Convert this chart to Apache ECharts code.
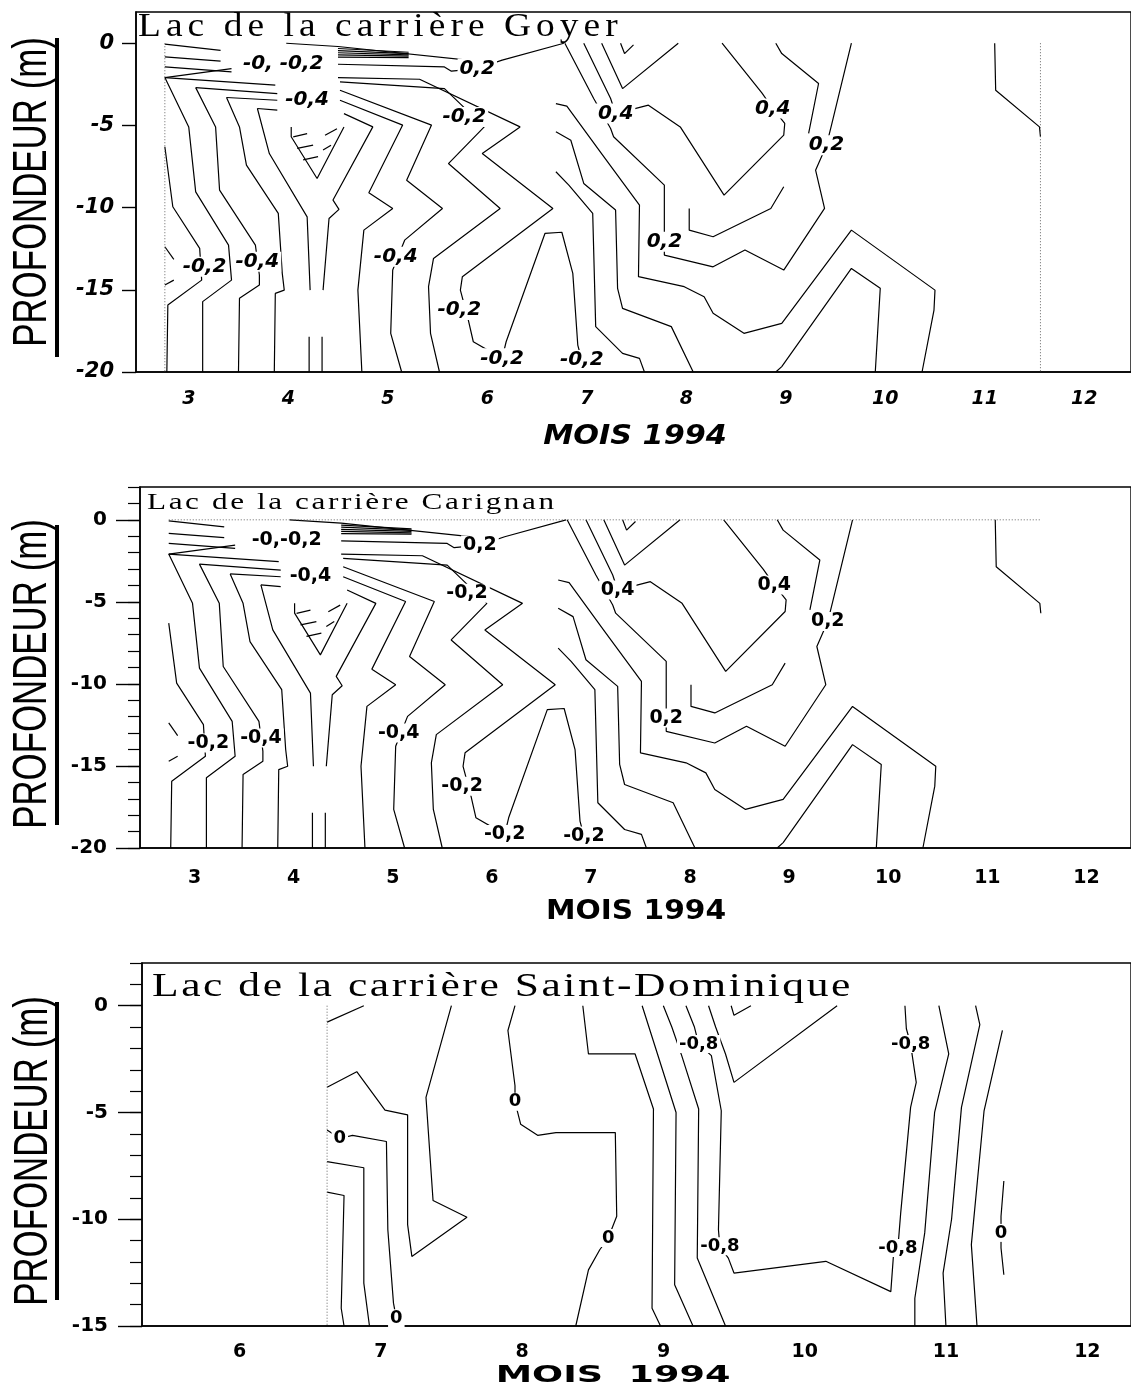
<!DOCTYPE html>
<html><head><meta charset="utf-8">
<script src="https://cdn.jsdelivr.net/npm/echarts@6.0.0/dist/echarts.min.js"></script>
<style>html,body{margin:0;padding:0;background:#fff;overflow:hidden}#c{width:1131px;height:1400px}</style>
</head><body><div id="c"></div>
<script>
// ---------- data ----------
const monthsAB = ['3','4','5','6','7','8','9','10','11','12'];
const monthsC = ['6','7','8','9','10','11','12'];
const depthTicksAB = [-20,-15,-10,-5,0];
const depthTicksC = [-15,-10,-5,0];

// contour polylines [month, depth] - Lac de la carrière Goyer
const goyerLines = [
  [[3.29,-0.06],[3.85,-0.43]],
  [[3.29,-0.83],[3.85,-1.09]],
  [[3.29,-1.44],[3.96,-1.74]],
  [[3.29,-2.09],[3.96,-1.54]],
  [[4.51,0],[5.03,-0.2],[6.5,-1.13]],
  [[5.03,-0.32],[5.74,-0.55]],
  [[5.03,-0.45],[5.74,-0.63]],
  [[5.03,-0.58],[5.74,-0.71]],
  [[5.03,-0.71],[5.74,-0.79]],
  [[5.03,-0.84],[5.74,-0.87]],
  [[5.03,-1.28],[6.10,-1.44],[6.17,-1.70],[6.43,-1.54],[6.68,-1.03],[7.30,0]],
  [[3.29,-2.09],[4.40,-2.55]],
  [[3.60,-2.70],[4.42,-3.06]],
  [[3.91,-3.30],[4.42,-3.47]],
  [[4.22,-3.97],[4.42,-4.07]],
  [[3.29,-6.30],[3.37,-9.95],[3.64,-12.48],[3.66,-14.41],[3.32,-15.93],[3.31,-20]],
  [[3.29,-12.38],[3.38,-13.15]],
  [[3.38,-14.41],[3.29,-14.71]],
  [[3.29,-2.09],[3.53,-5.09],[3.60,-9.04],[3.93,-12.28],[3.96,-14.41],[3.67,-15.72],[3.67,-20]],
  [[3.60,-2.70],[3.80,-5.09],[3.84,-8.94],[4.20,-12.28],[4.24,-14.10],[4.24,-14.71],[4.04,-15.52],[4.03,-20]],
  [[3.91,-3.30],[4.04,-5.09],[4.11,-7.42],[4.43,-10.35],[4.47,-14.0],[4.49,-15.02],[4.40,-15.22],[4.39,-20]],
  [[4.22,-3.97],[4.34,-6.71],[4.72,-10.56],[4.75,-15.02]],
  [[4.74,-17.85],[4.74,-20]],
  [[5.09,-4.28],[5.38,-5.09],[4.98,-9.54],[5.04,-10.11],[4.94,-10.66],[4.88,-15.02]],
  [[4.87,-17.85],[4.87,-20]],
  [[4.56,-5.09],[4.56,-5.69],[4.82,-8.23],[5.09,-5.09]],
  [[4.58,-5.7],[4.72,-5.5]],
  [[4.62,-6.4],[4.78,-6.2]],
  [[4.68,-7.1],[4.83,-6.9]],
  [[4.90,-5.6],[5.02,-5.2]],
  [[4.88,-6.5],[4.96,-6.2]],
  [[5.05,-3.47],[5.68,-4.98],[5.34,-9.10],[5.58,-10.05],[5.29,-11.37],[5.23,-15.02],[5.27,-20]],
  [[5.05,-2.86],[5.97,-4.98],[5.72,-8.33],[6.08,-10.05],[5.70,-11.98],[5.58,-13.80],[5.56,-17.65],[5.67,-20]],
  [[5.05,-2.35],[6.10,-2.76],[6.50,-5.09],[6.14,-7.32],[6.66,-10.05],[5.99,-13.09],[5.94,-14.81],[5.96,-17.65],[6.05,-20]],
  [[5.03,-2.09],[5.85,-2.19],[6.86,-5.09],[6.48,-6.71],[7.19,-10.05],[6.28,-14.20],[6.26,-15.02],[6.34,-16.84],[6.39,-18.16],[6.68,-19.17]],
  [[6.68,-19.17],[6.72,-18.16],[7.11,-11.57],[7.28,-11.5],[7.39,-14.0],[7.44,-18.36],[7.48,-19.27]],
  [[7.50,0],[7.77,-3.36],[7.82,-4.28],[8.15,-3.77],[8.47,-5.09],[8.91,-9.24],[9.51,-5.59],[9.52,-4.88],[9.40,-3.97],[9.29,-3.02],[8.89,0]],
  [[7.31,0],[7.60,-3.36],[7.77,-5.19],[7.80,-5.69],[8.31,-8.63],[8.31,-11.17],[8.31,-12.89],[8.80,-13.60],[9.12,-12.58],[9.51,-13.80],[9.92,-10.05],[9.83,-7.72],[9.94,-6.2],[9.99,-4.98],[10.19,0]],
  [[7.68,0],[7.89,-2.76],[8.45,0]],
  [[7.87,0],[7.91,-0.63],[8.0,-0.1]],
  [[9.43,0],[9.49,-0.63],[9.86,-2.45],[9.76,-5.49]],
  [[7.22,-5.39],[7.37,-5.90],[7.50,-8.53],[7.82,-10.15],[7.84,-14.91],[7.89,-16.13],[8.38,-17.24],[8.60,-20]],
  [[7.22,-7.82],[7.35,-8.63],[7.59,-10.35],[7.62,-17.24],[7.89,-18.87],[8.06,-19.17],[8.11,-20]],
  [[7.22,-3.67],[7.33,-3.83],[7.69,-6.81],[8.06,-9.85],[8.05,-14.20],[8.51,-14.81],[8.71,-15.42],[8.80,-16.43],[9.11,-17.65],[9.49,-17.04],[10.19,-11.37],[11.03,-15.02],[11.02,-16.23],[10.90,-20]],
  [[8.56,-10.05],[8.56,-11.37],[8.80,-11.77],[9.38,-10.05],[9.51,-8.73]],
  [[9.43,-20],[9.49,-19.67],[10.19,-13.70],[10.48,-14.91],[10.43,-20]],
  [[11.63,0],[11.64,-2.86],[12.08,-5.09],[12.09,-5.69]]
];
const goyerDotted = [
  [[3.29,0],[3.29,-20]],
  [[12.09,0],[12.09,-20]]
];
const goyerLabels = [
  [4.48,-1.24,'-0, -0,2'],[6.43,-1.54,'0,2'],[4.72,-3.42,'-0,4'],[6.30,-4.48,'-0,2'],
  [7.82,-4.28,'0,4'],[9.40,-3.97,'0,4'],[9.94,-6.20,'0,2'],[8.31,-12.08,'0,2'],
  [3.69,-13.60,'-0,2'],[4.22,-13.29,'-0,4'],[5.61,-12.99,'-0,4'],[6.25,-16.23,'-0,2'],
  [6.68,-19.17,'-0,2'],[7.48,-19.27,'-0,2']
];

// Lac de la carrière Carignan (same field as drawn in the source figure)
const carignanLines = goyerLines;
const carignanDotted = [
  [[3.29,0],[12.09,0]]
];
const carignanLabels = [
  [4.48,-1.24,'-0,-0,2'],[6.43,-1.54,'0,2'],[4.72,-3.42,'-0,4'],[6.30,-4.48,'-0,2'],
  [7.82,-4.28,'0,4'],[9.40,-3.97,'0,4'],[9.94,-6.20,'0,2'],[8.31,-12.08,'0,2'],
  [3.69,-13.60,'-0,2'],[4.22,-13.29,'-0,4'],[5.61,-12.99,'-0,4'],[6.25,-16.23,'-0,2'],
  [6.68,-19.17,'-0,2'],[7.48,-19.27,'-0,2']
];

// Lac de la carrière Saint-Dominique
const dominiqueLines = [
  [[7.31,-0.77],[7.57,0]],
  [[7.31,-3.82],[7.52,-3.09],[7.72,-4.89],[7.88,-5.11],[7.88,-10.25],[7.91,-11.74],[8.30,-9.91],[8.06,-9.12],[8.01,-4.29],[8.19,0]],
  [[7.31,-5.82],[7.40,-6.22],[7.49,-6.07],[7.73,-6.36],[7.74,-10.49],[7.78,-13.93],[7.80,-14.64]],
  [[7.31,-7.30],[7.57,-7.59],[7.57,-12.99],[7.61,-15]],
  [[7.31,-8.73],[7.43,-8.89],[7.41,-14.17],[7.43,-15]],
  [[8.64,0],[8.59,-1.16],[8.64,-3.75],[8.64,-4.50],[8.68,-5.55],[8.80,-6.07],[8.93,-5.94],[9.35,-5.94],[9.36,-9.86],[9.30,-10.88],[9.24,-11.43],[9.16,-12.37],[9.07,-15]],
  [[9.12,0],[9.16,-2.26],[9.49,-2.26],[9.62,-4.84],[9.61,-14.17],[9.67,-15]],
  [[9.54,0],[9.78,-5.0],[9.77,-13.07],[9.90,-15]],
  [[9.69,0],[9.75,-1.0],[9.82,-2.34],[9.94,-4.84],[9.93,-11.82],[10.13,-15]],
  [[9.85,0],[9.91,-1.0],[9.94,-1.79],[10.03,-2.34],[10.10,-4.92],[10.08,-10.49],[10.09,-11.27],[10.15,-11.82],[10.19,-12.52],[10.84,-11.97],[11.30,-13.39],[11.32,-11.58],[11.35,-11.35],[11.37,-9.70],[11.44,-4.76],[11.48,-3.59],[11.45,-2.26],[11.44,-1.79],[11.41,-1.08],[11.40,0]],
  [[10.01,0],[10.06,-1.0],[10.13,-2.26],[10.19,-3.59],[10.92,0]],
  [[10.17,0],[10.19,-0.45],[10.31,0]],
  [[11.64,0],[11.71,-2.26],[11.61,-5.0],[11.54,-10.64],[11.47,-13.70],[11.47,-15]],
  [[11.90,0],[11.93,-0.89],[11.80,-4.76],[11.73,-10.0],[11.67,-12.52],[11.69,-15]],
  [[12.09,-1.16],[11.96,-4.92],[11.87,-11.19],[11.91,-15]],
  [[12.10,-8.21],[12.08,-9.86],[12.08,-10.64],[12.08,-11.35],[12.10,-12.6]]
];
const dominiqueDotted = [
  [[7.31,0],[7.31,-15]]
];
const dominiqueLabels = [
  [7.40,-6.22,'0'],[8.64,-4.50,'0'],[7.80,-14.64,'0'],[9.30,-10.88,'0'],
  [9.94,-1.79,'-0,8'],[10.09,-11.27,'-0,8'],[11.44,-1.79,'-0,8'],[11.35,-11.35,'-0,8'],[12.08,-10.64,'0']
];

// ---------- build ----------
const SANS = '"DejaVu Sans", sans-serif';
const chart = echarts.init(document.getElementById('c'), null, {renderer:'canvas'});

function lines(list, xi, yi, dotted) {
  return list.map(pts => ({
    type:'line', xAxisIndex:xi, yAxisIndex:yi, data:pts, symbol:'none', silent:true,
    animation:false, z:2,
    lineStyle: dotted ? {color:'#666', width:1, type:[1,2]} : {color:'#000', width:1.2}
  }));
}
function labels(list, xi, yi, italic, size) {
  return {
    type:'scatter', xAxisIndex:xi, yAxisIndex:yi, symbol:'circle', symbolSize:1, silent:true, animation:false, z:5,
    itemStyle:{color:'#fff', opacity:1},
    data: list.map(l => ({value:[l[0], l[1]], name:l[2]})),
    label:{show:true, position:'inside', formatter:'{b}', color:'#000', opacity:1,
      textBorderWidth:0, textBorderColor:'transparent', textShadowBlur:0,
      fontFamily:SANS, fontWeight:'bold', fontStyle: italic ? 'italic' : 'normal', fontSize:size,
      backgroundColor:'#fff', padding:[0,2]}
  };
}
function catAxis(gi, data, italic, margin, padLeft, size) {
  return {gridIndex:gi, type:'category', data:data, boundaryGap:true, position:'bottom',
    axisLine:{onZero:false, lineStyle:{color:'#000', width:1.6}},
    axisTick:{length:11, lineStyle:{color:'#000', width:1.6}},
    axisLabel:{color:'#000', fontFamily:SANS, fontWeight:'bold', fontStyle: italic?'italic':'normal',
      fontSize:size, margin:margin, padding:[0,0,0,padLeft]},
    splitLine:{show:false}};
}
function valX(gi, min, max) {
  return {gridIndex:gi, type:'value', min:min, max:max, show:false, position:'bottom',
    axisLine:{onZero:false}, splitLine:{show:false}};
}
function mainY(gi, min, max, ticks, italic, tickLen, margin, size) {
  return {gridIndex:gi, type:'value', min:min, max:max, interval:5, position:'left',
    axisLine:{show:true, onZero:false, lineStyle:{color:'#000', width:1.6}},
    axisTick:{show:true, length:tickLen, customValues:ticks, lineStyle:{color:'#000', width:1.4}},
    axisLabel:{customValues:ticks, color:'#000', fontFamily:SANS, fontWeight:'bold',
      fontStyle: italic?'italic':'normal', fontSize:size, margin:margin,
      formatter: v => (v % 5 === 0 ? String(v) : '')},
    splitLine:{show:false}};
}
function minorY(gi, min, max) {
  return {gridIndex:gi, type:'value', min:min, max:max, interval:1, position:'left', offset:0,
    axisLine:{show:false}, axisTick:{show:true, length:12, lineStyle:{color:'#000', width:1.2}},
    axisLabel:{show:false}, splitLine:{show:false}};
}
function spaced(text) { return text.split('').map(ch => '{s|' + ch + '}').join(''); }
function titleText(x, y, text, size, pad, sx) {
  return {type:'text', x:x, y:y, scaleX:sx, silent:true, z:10,
    style:{text:spaced(text), font: size + 'px "Liberation Serif"', fill:'#000', align:'left', verticalAlign:'middle',
      rich:{s:{font: size + 'px "Liberation Serif"', fill:'#000', padding:[0,pad,0,0]}}}};
}
function yTitle(cx, cy, barY, barH) {
  return [
    {type:'text', x:cx, y:cy, rotation:Math.PI/2, scaleX:0.726, silent:true,
      style:{text:'PROFONDEUR (m)', font:'48px "Liberation Sans"', fill:'#000', align:'center', verticalAlign:'middle'}},
    {type:'rect', silent:true, shape:{x:55, y:barY, width:4, height:barH}, style:{fill:'#000'}}
  ];
}
function xTitle(cx, cy, text, font, sx) {
  return {type:'text', x:cx, y:cy, scaleX:sx, silent:true,
    style:{text:text, font:font, fill:'#000', align:'center', verticalAlign:'middle'}};
}

const option = {
  backgroundColor:'#fff',
  animation:false,
  grid:[
    {left:136, top:12, width:1004, height:360, show:true, borderColor:'#000', borderWidth:1.4, backgroundColor:'#fff'},
    {left:140, top:487, width:1000, height:361, show:true, borderColor:'#000', borderWidth:1.4, backgroundColor:'#fff'},
    {left:142, top:963, width:999, height:363, show:true, borderColor:'#000', borderWidth:1.4, backgroundColor:'#fff'}
  ],
  xAxis:[
    catAxis(0, monthsAB, true, 18, 6, 19), valX(0, 3, 13),
    catAxis(1, monthsAB, false, 21, 10, 19), valX(1, 3, 13),
    catAxis(2, monthsC, false, 17, 54, 19), valX(2, 6, 13)
  ],
  yAxis:[
    mainY(0, -20, 1.9, depthTicksAB, true, 14, 22, 21),
    mainY(1, -20, 2, depthTicksAB, false, 24, 33, 20),
    minorY(1, -20, 2),
    mainY(2, -15, 2, depthTicksC, false, 24, 34, 20),
    minorY(2, -15, 2)
  ],
  series:[].concat(
    lines(goyerLines, 1, 0, false), lines(goyerDotted, 1, 0, true), [labels(goyerLabels, 1, 0, true, 20)],
    lines(carignanLines, 3, 1, false), lines(carignanDotted, 3, 1, true), [labels(carignanLabels, 3, 1, false, 19)],
    lines(dominiqueLines, 5, 3, false), lines(dominiqueDotted, 5, 3, true), [labels(dominiqueLabels, 5, 3, false, 18)]
  ),
  graphic:[].concat(
    [titleText(138, 27, 'Lac de la carrière Goyer', 34, 4.6, 1.1)],
    [titleText(147, 503, 'Lac de la carrière Carignan', 24, 2.0, 1.3)],
    [titleText(152, 987, 'Lac de la carrière Saint-Dominique', 34, 2.0, 1.28)],
    yTitle(33, 192, 38, 319),
    yTitle(33, 674, 525, 300),
    yTitle(34, 1151, 1002, 298),
    [xTitle(635, 437, 'MOIS 1994', 'italic bold 27px "DejaVu Sans"', 1.12)],
    [xTitle(636, 912, 'MOIS 1994', 'bold 27px "DejaVu Sans"', 1.1)],
    [xTitle(613, 1376, 'MOIS  1994', 'bold 23px "DejaVu Sans"', 1.59)]
  )
};
chart.setOption(option);
</script>
</body></html>
